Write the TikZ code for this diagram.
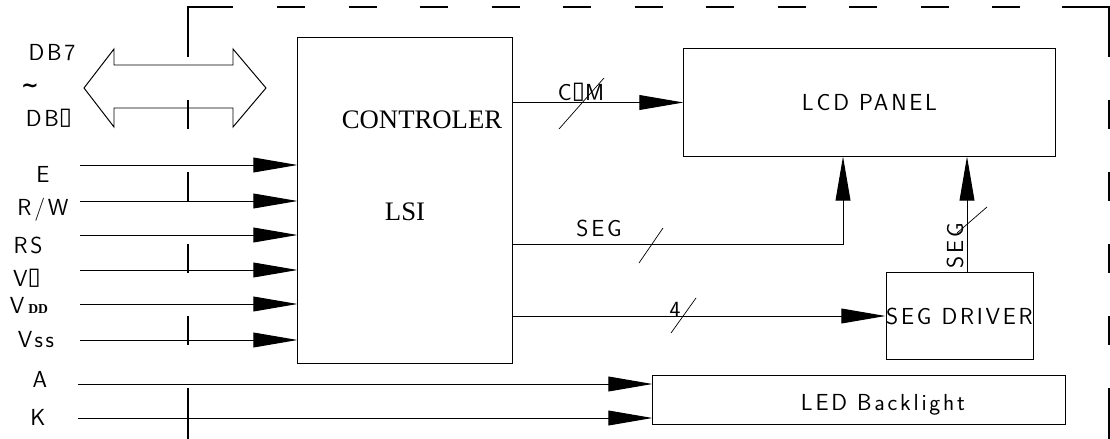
\documentclass[tikz,border=0pt]{standalone}
\usepackage{fontspec}
\usetikzlibrary{arrows.meta}
\newfontfamily\cadfont[LetterSpace=12]{Latin Modern Sans}
\newfontfamily\symfont{DejaVu Sans}
\newfontfamily\serifblock{Liberation Serif}
\newcommand{\cadsize}{\cadfont\fontsize{16.5pt}{19pt}\selectfont}
\newcommand{\blocksize}{\serifblock\fontsize{19pt}{22pt}\selectfont}
\newcommand{\nullbox}{\raisebox{1.6pt}{\symfont\fontsize{17pt}{17pt}\selectfont\char"25AF}}
\newcommand{\ddsub}{{\serifblock\bfseries\fontsize{9.7pt}{10pt}\selectfont DD}}

\begin{document}
\begin{tikzpicture}[x=0.025cm,y=-0.025cm,line width=0.7pt,
  >={Triangle[length=1.1cm,width=0.37cm]},
  blockbox/.style={draw,inner sep=0pt,font=\cadsize},
  siglabel/.style={inner sep=0pt,font=\cadsize},
  frameline/.style={line width=0.9pt},
  busmark/.style={line width=0.5pt}]
\useasboundingbox (0,0) rectangle (1110,439);

% module outline (dashed)
\draw[frameline] (188,57) -- (188,7) -- (233,7);
\draw[frameline] (1062,7) -- (1109,7) -- (1109,57);
\foreach \i in {0,...,10}
  \draw[frameline] ({277+71.5*\i},7) -- ++(28,0);
\foreach \y in {100,172,244,316} {
  \draw[frameline] (188,\y) -- ++(0,29);
  \draw[frameline] (1109,\y) -- ++(0,29);
}
\draw[frameline] (188,388) -- (188,439);
\draw[frameline] (1109,388) -- (1109,439);

% blocks
\node[blockbox,minimum width=5.35cm,minimum height=8.125cm] (ctrl) at (405,200.5) {};
\node[font=\blocksize,inner sep=0pt] (ctrlname) at (422,120) {CONTROLER};
\node[font=\blocksize,inner sep=0pt] (lsiname) at (405,212) {LSI};
\node[blockbox,minimum width=9.275cm,minimum height=2.675cm] (lcd) at (869.5,102.5) {LCD PANEL};
\node[blockbox,minimum width=3.675cm,minimum height=2.15cm] (segdrv) at (959.5,316) {SEG DRIVER};
\node[blockbox,minimum width=10.3cm,minimum height=1.225cm] (led) at (859,399.5) {};
\node[siglabel,anchor=base] (ledname) at (883,410) {LED Backlight};

% data bus
\draw (84,88) -- (114,49) -- (114,65) -- (233,65) -- (233,49) -- (266,88)
  -- (233,127) -- (233,108) -- (114,108) -- (114,127) -- cycle;
\node[siglabel] (db7) at (52,53) {DB7};
\node[inner sep=0pt,font=\symfont\bfseries\fontsize{15pt}{16pt}\selectfont] (tilde) at (30,88) {\textasciitilde};
\node[siglabel] (db0) at (49,118) {DB\nullbox};

% control inputs
\foreach \name/\txt/\ly/\tx/\ty in {e/E/165/43/174, rw/{R/W}/201/43/210, rs/RS/235/28/245,
    vo/{V\nullbox}/270/27/278, vdd/{V\,\ddsub}/304/29/305, vss/Vss/340/36/340} {
  \coordinate (\name) at (80,\ly);
  \draw[->] (\name) -- (\name -| ctrl.west);
  \node[siglabel] (\name lbl) at (\tx,\ty) {\txt};
}

% backlight
\foreach \name/\txt/\ly/\tx/\ty in {a/A/384/40/379, k/K/418/38/417} {
  \coordinate (\name) at (78,\ly);
  \draw[->] (\name) -- (\name -| led.west);
  \node[siglabel] (\name lbl) at (\tx,\ty) {\txt};
}

% COM
\draw[->] (ctrl.east |- lcd.west) -- (lcd.west);
\node[siglabel] (comlbl) at (581,92) {C\nullbox M};
\draw[busmark] (559,129) -- (604,78);

% SEG from controller
\coordinate (segbend) at (843,244);
\draw[->] (ctrl.east |- segbend) -- (segbend) -- (segbend |- lcd.south);
\node[siglabel] (seglbl) at (599,228) {SEG};
\draw[busmark] (639,263) -- (663,228);

% 4 lines to driver
\draw[->] (ctrl.east |- segdrv.west) -- (segdrv.west);
\node[siglabel] (fourlbl) at (675,310) {4};
\draw[busmark] (671,333) -- (696,298);

% SEG from driver
\coordinate (segout) at (967,273);
\draw[->] (segout) -- (segout |- lcd.south);
\node[siglabel,rotate=90] (segdrvlbl) at (955,246) {SEG};
\draw[busmark] (957,233) -- (987,207);
\end{tikzpicture}
\end{document}
